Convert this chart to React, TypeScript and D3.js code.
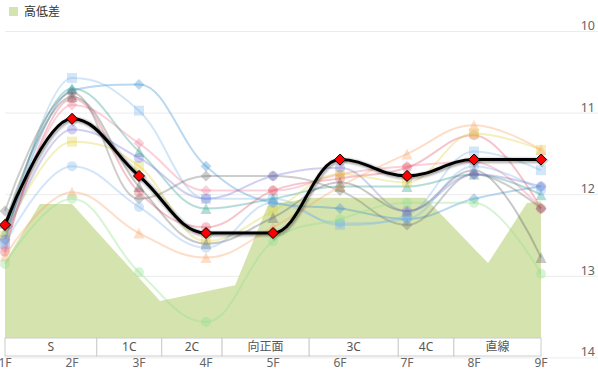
import React from 'react';
import * as d3 from 'd3';

const floors = ['1F', '2F', '3F', '4F', '5F', '6F', '7F', '8F', '9F'];
const floorDist = [200, 400, 600, 800, 1000, 1200, 1400, 1600, 1800];
const yTicks = [10, 11, 12, 13, 14];

const sections = ['S', '1C', '2C', '向正面', '3C', '4C', '直線'];
const sectionEnds = [474, 668, 848, 1108, 1374, 1540, 1800];

const elevDist = [200, 304, 400, 663, 887, 985, 1119, 1454, 1642, 1758, 1800];
const elevValues = [1.58, 2.79, 2.79, 0.77, 1.10, 2.77, 2.92, 2.92, 1.56, 2.81, 2.85];

const mainLap = [12.37, 11.07, 11.77, 12.47, 12.47, 11.57, 11.77, 11.57, 11.57];

const lapA = [12.55, 10.72, 10.65, 11.65, 12.1, 12.17, 12.3, 12.05, 11.9];
const lapB = [12.6, 10.57, 10.97, 12.05, 12.05, 12.37, 12.25, 11.47, 11.7];
const lapC = [12.65, 10.9, 11.37, 11.95, 11.95, 11.75, 11.65, 11.6, 12.17];
const lapD = [12.7, 10.82, 11.97, 12.4, 11.95, 11.8, 11.67, 11.27, 12.17];
const lapE = [12.45, 10.7, 11.47, 12.17, 12.05, 11.9, 11.9, 11.75, 12.0];
const lapF = [12.5, 11.35, 11.65, 12.57, 12.2, 11.75, 11.85, 11.25, 11.45];
const lapG = [12.35, 10.8, 11.9, 12.6, 12.28, 11.85, 12.2, 11.7, 12.77];
const lapH = [12.2, 10.75, 12.05, 11.77, 11.77, 11.95, 12.37, 11.75, 12.17];
const lapI = [12.55, 11.2, 11.55, 12.05, 11.77, 11.67, 12.2, 11.75, 11.9];
const lapJ = [12.6, 11.65, 12.15, 12.65, 12.1, 12.35, 12.3, 11.65, 11.95];
const lapK = [12.75, 11.97, 12.47, 12.77, 12.4, 11.9, 11.5, 11.15, 11.45];
const lapL = [12.85, 12.05, 12.95, 13.56, 12.57, 12.3, 12.1, 12.1, 12.97];

const otherSeries = [
  { data: lapA, color: '#3a8fd0', marker: 'diamond' },
  { data: lapB, color: '#7fb6ea', marker: 'square' },
  { data: lapC, color: '#f07a95', marker: 'diamond' },
  { data: lapD, color: '#e35a6a', marker: 'circle' },
  { data: lapE, color: '#2a9d8f', marker: 'triangle' },
  { data: lapF, color: '#e0d040', marker: 'square' },
  { data: lapG, color: '#606060', marker: 'triangle' },
  { data: lapH, color: '#707070', marker: 'diamond' },
  { data: lapI, color: '#7b78d8', marker: 'circle' },
  { data: lapJ, color: '#80b4ea', marker: 'circle' },
  { data: lapK, color: '#f8a060', marker: 'triangle' },
  { data: lapL, color: '#8ee08a', marker: 'circle' },
];

const W = 598;
const H = 381;

function splinePath(pts: [number, number][]): string {
  const p = d3.path();
  const smoothing = 1.5;
  const denom = smoothing + 1;
  let prevRight: [number, number] | null = null;
  pts.forEach((pt, i) => {
    const [x, y] = pt;
    if (i === 0) {
      p.moveTo(x, y);
      return;
    }
    const last = pts[i - 1];
    const next = pts[i + 1];
    let lcx = x, lcy = y, rcx = x, rcy = y;
    let right: [number, number] | null = null;
    if (next) {
      lcx = (smoothing * x + last[0]) / denom;
      lcy = (smoothing * y + last[1]) / denom;
      rcx = (smoothing * x + next[0]) / denom;
      rcy = (smoothing * y + next[1]) / denom;
      let correction = 0;
      if (rcx !== lcx) {
        correction = ((rcy - lcy) * (rcx - x)) / (rcx - lcx) + y - rcy;
      }
      lcy += correction;
      rcy += correction;
      if (lcy > last[1] && lcy > y) {
        lcy = Math.max(last[1], y);
        rcy = 2 * y - lcy;
      } else if (lcy < last[1] && lcy < y) {
        lcy = Math.min(last[1], y);
        rcy = 2 * y - lcy;
      }
      if (rcy > next[1] && rcy > y) {
        rcy = Math.max(next[1], y);
        lcy = 2 * y - rcy;
      } else if (rcy < next[1] && rcy < y) {
        rcy = Math.min(next[1], y);
        lcy = 2 * y - rcy;
      }
      right = [rcx, rcy];
    }
    const c1 = prevRight || last;
    p.bezierCurveTo(c1[0], c1[1], lcx, lcy, x, y);
    prevRight = right;
  });
  return p.toString();
}

function markerPath(kind: string, x: number, y: number, r: number): string {
  const p = d3.path();
  if (kind === 'circle') {
    p.moveTo(x + r, y);
    p.arc(x, y, r, 0, Math.PI * 2);
  } else if (kind === 'square') {
    p.rect(x - r, y - r, 2 * r, 2 * r);
  } else if (kind === 'diamond') {
    p.moveTo(x, y - r);
    p.lineTo(x + r, y);
    p.lineTo(x, y + r);
    p.lineTo(x - r, y);
    p.closePath();
  } else {
    p.moveTo(x, y - r);
    p.lineTo(x + r, y + r);
    p.lineTo(x - r, y + r);
    p.closePath();
  }
  return p.toString();
}

export default function App() {
  const x = d3.scaleLinear().domain([200, 1800]).range([5, 541]);
  const y = d3.scaleLinear().domain([10, 14]).range([31.5, 357.9]);
  const yElev = d3.scaleLinear().domain([0, 3]).range([338, 194]);
  const baseY = 338;

  const area = d3
    .area<number>()
    .x((_, i) => x(elevDist[i]))
    .y0(baseY)
    .y1((d) => yElev(d));

  const font = "'Noto Sans', 'Noto Sans CJK JP', sans-serif";

  const mainPts: [number, number][] = mainLap.map((v, i) => [x(floorDist[i]), y(v)]);
  const mainD = splinePath(mainPts);

  return (
    <svg
      width={W}
      height={H}
      style={{ position: 'absolute', left: 0, top: 0, background: '#fff' }}
      fontFamily={font}
    >
      {yTicks.map((t) => (
        <line key={'g' + t} x1={5} x2={W} y1={y(t)} y2={y(t)} stroke="#ececec" strokeWidth={1} />
      ))}
      {yTicks.map((t) => (
        <text key={'yt' + t} x={595} y={y(t) - 1.5} textAnchor="end" fontSize={12.5} fill="#666">
          {t}
        </text>
      ))}
      <path d={area(elevValues) || ''} fill="#d5e4ae" />

      {otherSeries.map((s, si) => {
        const pts: [number, number][] = s.data.map((v, i) => [x(floorDist[i]), y(v)]);
        return (
          <g key={'s' + si}>
            <path d={splinePath(pts)} fill="none" stroke={s.color} strokeOpacity={0.35} strokeWidth={2} />
            {pts.map((pt, i) => (
              <path
                key={i}
                d={markerPath(s.marker, pt[0], pt[1], s.marker === 'circle' ? 5 : s.marker === 'square' ? 5 : 5.5)}
                fill={s.color}
                fillOpacity={0.35}
              />
            ))}
          </g>
        );
      })}

      {[1, 2, 3].map((i) => (
        <path
          key={'sh' + i}
          d={mainD}
          fill="none"
          stroke="#000"
          strokeOpacity={0.05 * i}
          strokeWidth={3 + 7 - 2 * i}
          transform="translate(1,1)"
          strokeLinejoin="round"
        />
      ))}
      <path d={mainD} fill="none" stroke="#000" strokeWidth={3} strokeLinejoin="round" />
      {mainPts.map((pt, i) => (
        <g key={'m' + i}>
          <path
            d={markerPath('diamond', pt[0] + 1, pt[1] + 1, 7)}
            fill="#000"
            fillOpacity={0.15}
          />
          <path d={markerPath('diamond', pt[0], pt[1], 5.5)} fill="#ff0000" stroke="#000" strokeWidth={1} />
        </g>
      ))}

      {sections.map((s, i) => {
        const x0 = x(i === 0 ? 200 : sectionEnds[i - 1]);
        const x1 = x(sectionEnds[i]);
        return (
          <g key={'sec' + i}>
            <rect x={x0} y={baseY} width={x1 - x0} height={18} fill="#fff" stroke="#cccccc" strokeWidth={1} />
            <text x={(x0 + x1) / 2} y={baseY + 13} textAnchor="middle" fontSize={12} fill="#555">
              {s}
            </text>
          </g>
        );
      })}

      {floors.map((f, i) => (
        <text key={'xf' + i} x={x(floorDist[i])} y={367} textAnchor="middle" fontSize={12} fill="#666">
          {f}
        </text>
      ))}

      <rect x={9} y={7} width={9} height={9} fill="#d5e4ae" />
      <text x={24} y={16} fontSize={12} fill="#333">
        高低差
      </text>
    </svg>
  );
}
